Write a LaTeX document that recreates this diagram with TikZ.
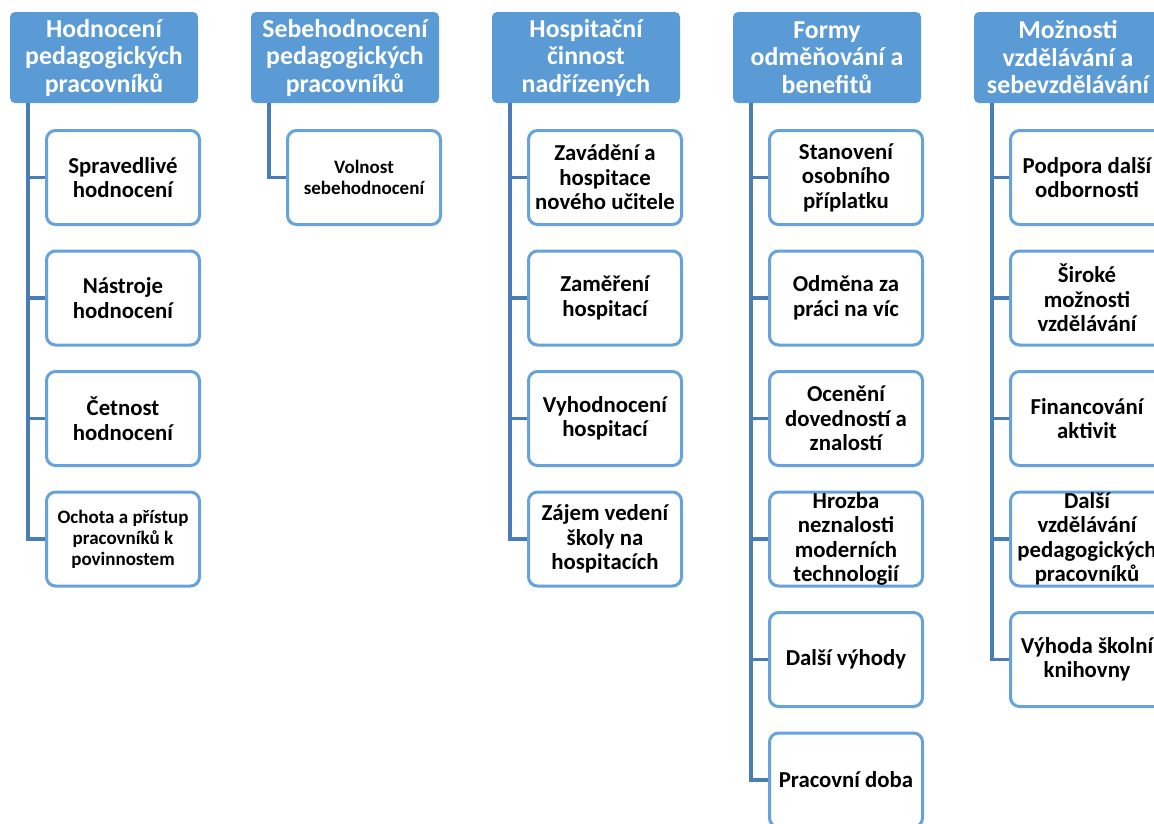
\documentclass[tikz,border=0pt]{standalone}
\usepackage{fontspec}
\setmainfont{Carlito}
\usetikzlibrary{positioning}
\definecolor{hdblue}{HTML}{5B9BD5}
\definecolor{bxblue}{HTML}{66A3DC}
\definecolor{lnblue}{HTML}{4A7DB5}

\tikzset{
  head/.style={fill=hdblue, rounded corners=5pt, text=white, align=center,
    font=\fontsize{25.8}{27.5}\selectfont\bfseries,
    minimum width=188pt, minimum height=91pt, inner sep=1pt},
  item/.style={draw=bxblue, line width=3pt, fill=white, rounded corners=9pt, align=center,
    font=\fontsize{22.8}{24.5}\selectfont\bfseries,
    minimum width=153pt, minimum height=94pt, inner sep=0pt},
  small/.style={font=\fontsize{19}{21}\selectfont\bfseries},
  link/.style={draw=lnblue, line width=3.5pt},
}

\begin{document}
\begin{tikzpicture}[x=1pt,y=-1pt]
\useasboundingbox (0,0) rectangle (1154,823);
\clip (0,0) rectangle (1154,823);

% headers
\node[head] (h1) at (104,57.5) {Hodnocení\\pedagogických\\pracovníků};
\node[head] (h2) at (345,57.5) {Sebehodnocení\\pedagogických\\pracovníků};
\node[head] (h3) at (586,57.5) {Hospitační\\činnost\\nadřízených};
\node[head] (h4) at (827,57.5) {Formy\\odměňování a\\benefitů};
\node[head] (h5) at (1068,57.5) {Možnosti\\vzdělávání a\\sebevzdělávání};

% Hodnoceni
\node[item] (c1-1) at (123,177.5) {Spravedlivé\\hodnocení};
\node[item] (c1-2) at (123,298) {Nástroje\\hodnocení};
\node[item] (c1-3) at (123,418.5) {Četnost\\hodnocení};
\node[item,small] (c1-4) at (123,539) {Ochota a přístup\\pracovníků k\\povinnostem};

% Sebehodnoceni
\node[item,small] (c2-1) at (364,177.5) {Volnost\\sebehodnocení};

% Hospitace
\node[item] (c3-1) at (605,177.5) {Zavádění a\\hospitace\\nového učitele};
\node[item] (c3-2) at (605,298) {Zaměření\\hospitací};
\node[item] (c3-3) at (605,418.5) {Vyhodnocení\\hospitací};
\node[item] (c3-4) at (605,539) {Zájem vedení\\školy na\\hospitacích};

% Odmenovani
\node[item] (c4-1) at (846,177.5) {Stanovení\\osobního\\příplatku};
\node[item] (c4-2) at (846,298) {Odměna za\\práci na víc};
\node[item] (c4-3) at (846,418.5) {Ocenění\\dovedností a\\znalostí};
\node[item] (c4-4) at (846,539) {Hrozba\\neznalosti\\moderních\\technologií};
\node[item] (c4-5) at (846,659.5) {Další výhody};
\node[item] (c4-6) at (846,780) {Pracovní doba};

% Vzdelavani
\node[item] (c5-1) at (1087,177.5) {Podpora další\\odbornosti};
\node[item] (c5-2) at (1087,298) {Široké\\možnosti\\vzdělávání};
\node[item] (c5-3) at (1087,418.5) {Financování\\aktivit};
\node[item] (c5-4) at (1087,539) {Další\\vzdělávání\\pedagogických\\pracovníků};
\node[item] (c5-5) at (1087,659.5) {Výhoda školní\\knihovny};

% spines
\foreach \i in {1,...,5}
  \coordinate (s\i) at ([xshift=18pt]h\i.south west);

\foreach \j in {1,...,4} \draw[link] (s1) |- (c1-\j.west);
\draw[link] (s2) |- (c2-1.west);
\foreach \j in {1,...,4} \draw[link] (s3) |- (c3-\j.west);
\foreach \j in {1,...,6} \draw[link] (s4) |- (c4-\j.west);
\foreach \j in {1,...,5} \draw[link] (s5) |- (c5-\j.west);
\end{tikzpicture}
\end{document}
